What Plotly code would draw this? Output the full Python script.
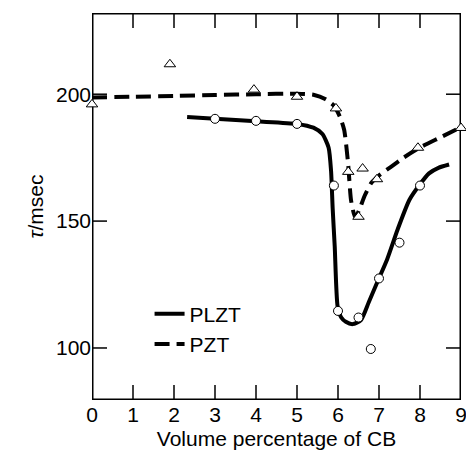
import plotly.graph_objects as go

# curves
plzt_curve_x = [2.32, 3, 4, 5, 5.4, 5.62, 5.77, 5.83, 5.87, 5.92, 5.99, 6.08, 6.19, 6.36, 6.56,
                6.75, 6.96, 7.2, 7.45, 7.74, 8.0, 8.22, 8.45, 8.71]
plzt_curve_y = [191, 190.3, 189.3, 188.3, 186.8, 184.3, 179, 170, 155, 140, 116.5, 112, 110.3, 109.4, 111,
                118, 126, 135, 146.5, 158.3, 164.5, 168.8, 171, 172.3]

pzt_curve_x = [0, 1, 2, 3, 4, 5, 5.4, 5.7, 5.9, 6.05, 6.15, 6.2, 6.25, 6.32, 6.42, 6.52,
               6.65, 6.81, 7.0, 7.3, 7.6, 8.0, 8.5, 9.0]
pzt_curve_y = [198.7, 199, 199.3, 199.7, 200, 200.2, 199.8, 198, 195.5, 191, 186, 180, 172, 158, 151.5, 154.5,
               160, 165, 168, 171.5, 175, 179, 183, 187]

# measured points
plzt_x = [3, 4, 5, 5.9, 6.0, 6.5, 6.8, 7.0, 7.5, 8.0]
plzt_y = [190.3, 189.5, 188.3, 164, 114.6, 112, 99.6, 127.4, 141.5, 164]

pzt_x = [0, 1.9, 3.95, 5.0, 5.95, 6.25, 6.6, 6.5, 6.95, 7.95, 9.0]
pzt_y = [196, 211.8, 201.8, 199, 194.4, 169.4, 170.7, 151.7, 166.5, 178.9, 186.7]

x_range = [0, 9]
y_range = [79.5, 232]
x_ticks = [0, 1, 2, 3, 4, 5, 6, 7, 8, 9]
y_ticks = [100, 150, 200]

W, H = 466, 456
margin = dict(l=92, r=5, t=13, b=56)
font = dict(family="Liberation Sans, Arial, sans-serif", size=21, color="black")

# 15px tick length expressed in axis units
tick_px = 15
dx = tick_px * (x_range[1] - x_range[0]) / (W - margin["l"] - margin["r"])
dy = tick_px * (y_range[1] - y_range[0]) / (H - margin["t"] - margin["b"])

tx, ty = [], []
for xv in x_ticks[1:-1]:
    tx += [xv, xv, None, xv, xv, None]
    ty += [y_range[0], y_range[0] + dy, None, y_range[1], y_range[1] - dy, None]
for yv in y_ticks:
    tx += [x_range[0], x_range[0] + dx, None, x_range[1], x_range[1] - dx, None]
    ty += [yv, yv, None, yv, yv, None]

fig = go.Figure()
# frame and ticks
fig.add_trace(go.Scatter(x=[x_range[0], x_range[1], x_range[1], x_range[0], x_range[0]],
                         y=[y_range[0], y_range[0], y_range[1], y_range[1], y_range[0]],
                         mode="lines", showlegend=False, hoverinfo="skip", cliponaxis=False,
                         line=dict(color="black", width=3)))
fig.add_trace(go.Scatter(x=tx, y=ty, mode="lines", showlegend=False, hoverinfo="skip", cliponaxis=False,
                         line=dict(color="black", width=1.5)))

fig.add_trace(go.Scatter(x=plzt_curve_x, y=plzt_curve_y, mode="lines", name="PLZT",
                         line=dict(color="black", width=4, shape="spline", smoothing=0.6)))
fig.add_trace(go.Scatter(x=pzt_curve_x, y=pzt_curve_y, mode="lines", name="PZT",
                         line=dict(color="black", width=4, dash="15px,7px", shape="spline", smoothing=0.6)))
fig.add_trace(go.Scatter(x=plzt_x, y=plzt_y, mode="markers", showlegend=False, cliponaxis=False,
                         marker=dict(symbol="circle", size=9, color="white", line=dict(color="black", width=1))))
fig.add_trace(go.Scatter(x=pzt_x, y=pzt_y, mode="markers", showlegend=False, cliponaxis=False,
                         marker=dict(symbol="triangle-up", size=10, color="white", line=dict(color="black", width=1))))

fig.update_xaxes(range=x_range, tickvals=x_ticks, ticks="", showline=False,
                 showgrid=False, zeroline=False, ticklabeloverflow="allow",
                 title=dict(text="Volume percentage of CB", font=font, standoff=6), tickfont=font,
                 automargin=False)
fig.update_yaxes(range=y_range, tickvals=y_ticks, ticks="", showline=False,
                 showgrid=False, zeroline=False,
                 title=dict(text="<i>τ</i>/msec", font=font, standoff=6), tickfont=font,
                 automargin=False)

fig.update_layout(width=W, height=H, margin=dict(margin, autoexpand=False),
                  paper_bgcolor="white", plot_bgcolor="white", font=font,
                  legend=dict(x=0.156, y=0.275, xanchor="left", yanchor="top", bgcolor="rgba(0,0,0,0)",
                              font=font, itemwidth=30, tracegroupgap=0))

# drop the page's default body margin so the figure fills the window
fig.write_html("out.html", config={"displayModeBar": False},
               post_script="document.body.style.margin='0';document.body.style.overflow='hidden';")
